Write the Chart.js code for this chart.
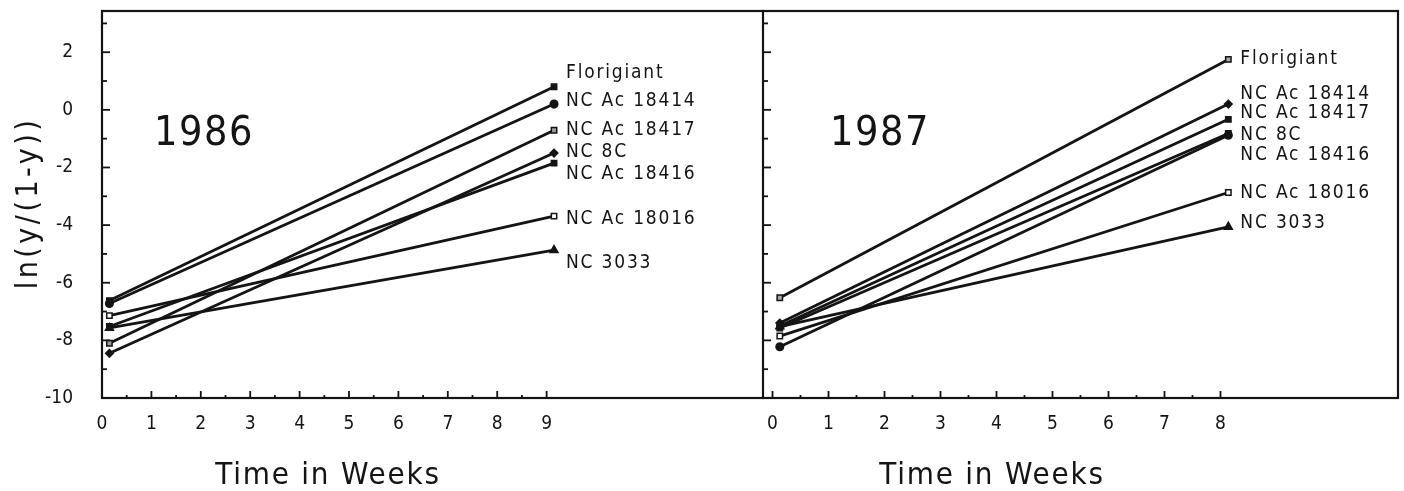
<!DOCTYPE html>
<html>
<head>
<meta charset="utf-8">
<script src="https://cdn.jsdelivr.net/npm/chart.js@4.4.1/dist/chart.umd.min.js"></script>
<style>
  html, body { margin: 0; padding: 0; background: #fff; }
  #wrap { position: relative; width: 1404px; height: 491px; overflow: hidden; }
  canvas { position: absolute; top: 0; }
  #chart1986 { left: 0; }
  #chart1987 { left: 762px; }
</style>
</head>
<body>
<div id="wrap">
  <canvas id="chart1986" width="764" height="491"></canvas>
  <canvas id="chart1987" width="642" height="491"></canvas>
</div>
<script>
// cultivars, in the order of the labels down the right side
const cultivars = ['Florigiant', 'NC Ac 18414', 'NC Ac 18417', 'NC 8C', 'NC Ac 18416', 'NC Ac 18016', 'NC 3033'];

// sampling times (weeks)
const weeks1986 = [0.15, 9.15];
const weeks1987 = [0.13, 8.14];

// ln(y/(1-y)) at first and last sampling
const start1986 = [-6.62, -6.72, -8.10, -8.45, -7.52, -7.14, -7.57];
const end1986   = [0.80, 0.20, -0.71, -1.50, -1.85, -3.69, -4.87];
const start1987 = [-6.52, -7.40, -7.50, -8.22, -7.57, -7.85, -7.52];
const end1987   = [1.75, 0.20, -0.33, -0.88, -0.82, -2.87, -4.06];

// where each cultivar name sits (y value) next to the line ends
const labelAt1986 = [1.26, 0.31, -0.71, -1.48, -2.24, -3.80, -5.33];
const labelAt1987 = [1.76, 0.55, -0.12, -0.86, -1.56, -2.89, -3.93];

// tick labels
const xTicks1986 = [0, 1, 2, 3, 4, 5, 6, 7, 8, 9];
const xTicks1987 = [0, 1, 2, 3, 4, 5, 6, 7, 8];
const yTicks = [-10, -8, -6, -4, -2, 0, 2];

const ink = '#141414';
const fontFam = "'DejaVu Sans Condensed', 'DejaVu Sans', sans-serif";

// marker look per cultivar and year
const markers1986 = [
  { style: 'rect', fill: ink }, { style: 'circle', fill: ink }, { style: 'rect', fill: '#9a9a9a' },
  { style: 'rectRot', fill: ink }, { style: 'rect', fill: ink }, { style: 'rect', fill: '#fff' },
  { style: 'triangle', fill: ink }
];
const markers1987 = [
  { style: 'rect', fill: '#a8a8a8' }, { style: 'rectRot', fill: ink }, { style: 'rect', fill: ink },
  { style: 'circle', fill: ink }, { style: 'rect', fill: ink }, { style: 'rect', fill: '#fff' },
  { style: 'triangle', fill: ink }
];

function makeDatasets(weeks, starts, ends, markers) {
  return cultivars.map((name, i) => ({
    label: name,
    data: [{ x: weeks[0], y: starts[i] }, { x: weeks[1], y: ends[i] }],
    borderColor: ink,
    borderWidth: 2.8,
    pointStyle: markers[i].style,
    pointRadius: markers[i].style === 'triangle' ? 4.6 : 3.8,
    pointBackgroundColor: markers[i].fill,
    pointBorderColor: ink,
    pointBorderWidth: 1.5
  }));
}

function line(ctx, x1, y1, x2, y2) {
  ctx.beginPath();
  ctx.moveTo(x1, y1);
  ctx.lineTo(x2, y2);
  ctx.stroke();
}

// scales should not push the plot area around
function noPadding(s) {
  s.paddingTop = 0;
  s.paddingBottom = 0;
  s.paddingLeft = 0;
  s.paddingRight = 0;
}

// box, inward tick marks and all free text
const panelDecor = {
  id: 'panelDecor',
  afterDraw(chart, args, o) {
    const { ctx, chartArea: a, scales: { x, y } } = chart;
    ctx.save();
    ctx.strokeStyle = ink;
    ctx.lineWidth = 2.2;
    ctx.strokeRect(a.left, a.top, a.right - a.left, a.bottom - a.top);

    ctx.lineWidth = 1.8;
    for (let v = -9; v <= 3; v++) {
      const py = y.getPixelForValue(v);
      line(ctx, a.left, py, a.left + (v % 2 === 0 ? 8 : 5), py);
    }
    for (let v = 0; v <= o.lastWeek; v += 0.5) {
      const px = x.getPixelForValue(v);
      line(ctx, px, a.bottom, px, a.bottom - (Number.isInteger(v) ? 7 : 3));
    }

    ctx.fillStyle = ink;
    ctx.textBaseline = 'middle';

    // year
    ctx.font = '41px ' + fontFam;
    ctx.letterSpacing = '1.5px';
    ctx.textAlign = 'center';
    ctx.fillText(o.year, o.yearX, o.yearY);

    // cultivar names
    ctx.font = '19px ' + fontFam;
    ctx.letterSpacing = '1.8px';
    ctx.textAlign = 'left';
    const lx = x.getPixelForValue(o.endWeek) + 12;
    cultivars.forEach((name, i) => ctx.fillText(name, lx, y.getPixelForValue(o.labelAt[i])));

    // x title
    ctx.font = '31px ' + fontFam;
    ctx.letterSpacing = '1.8px';
    ctx.textAlign = 'center';
    ctx.fillText('Time in Weeks', o.titleX, 476);

    // y title
    if (o.yTitle) {
      ctx.font = '30px ' + fontFam;
      ctx.letterSpacing = '3.5px';
      ctx.translate(29, 203);
      ctx.rotate(-Math.PI / 2);
      ctx.fillText(o.yTitle, 0, 0);
    }
    ctx.restore();
  }
};

function makeChart(id, cfg) {
  return new Chart(document.getElementById(id), {
    type: 'line',
    data: { datasets: makeDatasets(cfg.weeks, cfg.starts, cfg.ends, cfg.markers) },
    options: {
      responsive: false,
      animation: false,
      devicePixelRatio: 1,
      layout: { autoPadding: false, padding: { top: 11, right: cfg.padRight, left: 0, bottom: 0 } },
      plugins: {
        legend: { display: false },
        tooltip: { enabled: false },
        panelDecor: cfg.decor
      },
      scales: {
        x: {
          type: 'linear',
          min: cfg.xMin,
          max: cfg.xMax,
          afterFit: s => { s.height = 93; noPadding(s); },
          afterBuildTicks: s => { s.ticks = cfg.xTicks.map(v => ({ value: v })); },
          grid: { display: false, drawTicks: false },
          border: { display: false },
          ticks: {
            autoSkip: false,
            maxRotation: 0,
            padding: 15,
            color: ink,
            font: { family: fontFam, size: 19 }
          }
        },
        y: {
          min: -10,
          max: 3.43,
          afterFit: s => { s.width = cfg.yWidth; noPadding(s); },
          afterBuildTicks: s => { s.ticks = yTicks.map(v => ({ value: v })); },
          grid: { display: false, drawTicks: false },
          border: { display: false },
          ticks: {
            display: cfg.showY,
            autoSkip: false,
            padding: 29,
            color: ink,
            font: { family: fontFam, size: 19 }
          }
        }
      }
    },
    plugins: [panelDecor]
  });
}

makeChart('chart1986', {
  weeks: weeks1986, starts: start1986, ends: end1986, markers: markers1986, xTicks: xTicks1986,
  padRight: 1, xMin: 0, xMax: 13.38, yWidth: 102, showY: true,
  decor: { year: '1986', yearX: 204, yearY: 134, endWeek: weeks1986[1], labelAt: labelAt1986,
           lastWeek: 9, titleX: 328, yTitle: 'ln(y/(1-y))' }
});

makeChart('chart1987', {
  weeks: weeks1987, starts: start1987, ends: end1987, markers: markers1987, xTicks: xTicks1987,
  padRight: 6, xMin: -0.17, xMax: 11.17, yWidth: 1, showY: false,
  decor: { year: '1987', yearX: 118, yearY: 134, endWeek: weeks1987[1], labelAt: labelAt1987,
           lastWeek: 8, titleX: 230, yTitle: null }
});
</script>
</body>
</html>
